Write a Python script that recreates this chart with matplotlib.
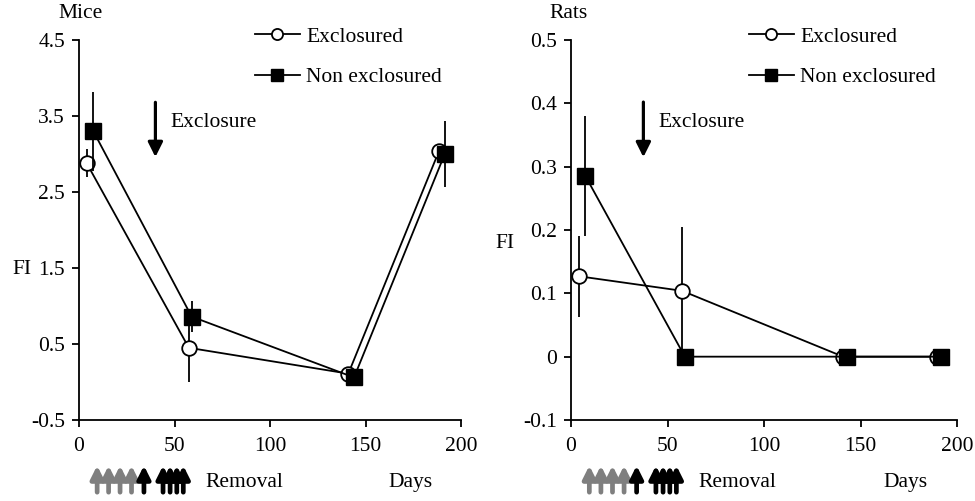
import matplotlib
matplotlib.use("Agg")
import matplotlib.pyplot as plt
from matplotlib.lines import Line2D

plt.rcParams['font.family'] = ['Liberation Serif', 'DejaVu Serif']
FS = 15.5
plt.rcParams['font.size'] = FS

# ---- data ----
mice_excl_x = [4, 57.5, 141, 188.5]
mice_excl_y = [2.88, 0.45, 0.11, 3.04]
mice_excl_err = [0.18, 0.45, 0.03, 0.03]
mice_non_x = [7.5, 59, 144, 191.5]
mice_non_y = [3.30, 0.86, 0.06, 3.00]
mice_non_err = [0.52, 0.20, 0.03, 0.43]

rats_excl_x = [4, 57.5, 141, 189.5]
rats_excl_y = [0.127, 0.104, 0.0, 0.0]
rats_excl_err = [0.064, 0.10, 0.0, 0.0]
rats_non_x = [7.5, 59, 143, 191.5]
rats_non_y = [0.285, 0.0, 0.0, 0.0]
rats_non_err = [0.095, 0.0, 0.0, 0.0]

mice_yticks = [-0.5, 0.5, 1.5, 2.5, 3.5, 4.5]
mice_yticklabels = ['-0.5', '0.5', '1.5', '2.5', '3.5', '4.5']
rats_yticks = [-0.1, 0, 0.1, 0.2, 0.3, 0.4, 0.5]
rats_yticklabels = ['-0.1', '0', '0.1', '0.2', '0.3', '0.4', '0.5']
xticks = [0, 50, 100, 150, 200]

removal_gray_days = [9.5, 15.5, 21.5, 27.5]
removal_black_days = [34, 44, 47.7, 51.2, 54.6]

fig = plt.figure(figsize=(9.75, 5.01), dpi=100)
ax1 = fig.add_axes([79/975, 81/501, 382/975, 380/501])
ax2 = fig.add_axes([571/975, 81/501, 386/975, 380/501])


def panel(ax, title, ex_x, ex_y, ex_e, nx_x, nx_y, nx_e, ylim, yticks, ylabels,
          excl_arrow_x, excl_arrow_y, fi_pos):
    ax.errorbar(ex_x, ex_y, yerr=ex_e, color='black', lw=1.3, elinewidth=1.3,
                marker='o', ms=10.5, mfc='white', mec='black', mew=1.3,
                capsize=0, zorder=3)
    ax.errorbar(nx_x, nx_y, yerr=nx_e, color='black', lw=1.3, elinewidth=1.3,
                marker='s', ms=11, mfc='black', mec='black',
                capsize=0, zorder=4)
    ax.set_xlim(0, 200)
    ax.set_ylim(*ylim)
    ax.set_xticks(xticks)
    ax.set_xticklabels([str(v) for v in xticks])
    ax.set_yticks(yticks)
    ax.set_yticklabels(ylabels)
    for s in ['top', 'right']:
        ax.spines[s].set_visible(False)
    for s in ['left', 'bottom']:
        ax.spines[s].set_linewidth(1.3)
    ax.tick_params(direction='out', length=5, width=1.3, labelsize=FS)
    ax.tick_params(axis='x', pad=7)
    ax.tick_params(axis='y', pad=5)

    ax.text(-0.055, 1.07, title, transform=ax.transAxes, fontsize=FS,
            ha='left', va='center')
    ax.text(fi_pos[0], fi_pos[1], 'FI', transform=ax.transAxes, fontsize=FS,
            ha='center', va='center')

    handles = [
        Line2D([], [], color='black', lw=1.3, marker='o', ms=8, mfc='white',
               mec='black', mew=1.3),
        Line2D([], [], color='black', lw=1.3, marker='s', ms=8.5, mfc='black',
               mec='black'),
    ]
    ax.legend(handles, ['Exclosured', 'Non exclosured'], loc='upper left',
              bbox_to_anchor=(0.46, 1.035), frameon=False,
              handlelength=2.1, handletextpad=0.3, labelspacing=0.95,
              borderpad=0, borderaxespad=0, fontsize=FS)

    # Exclosure arrow
    ax.annotate('', xy=(excl_arrow_x, excl_arrow_y[1]),
                xytext=(excl_arrow_x, excl_arrow_y[0]),
                arrowprops=dict(arrowstyle='-|>', color='black', lw=2.3,
                                mutation_scale=22, shrinkA=0, shrinkB=0))
    ax.text(excl_arrow_x + 8, (excl_arrow_y[0] + excl_arrow_y[1]) / 2 + 0.02 * (ylim[1] - ylim[0]),
            'Exclosure', fontsize=FS, ha='left', va='center')

    # Removal arrows
    trans = ax.get_xaxis_transform()
    for d in removal_gray_days:
        ax.annotate('', xy=(d, -0.12), xycoords=trans, xytext=(d, -0.19),
                    textcoords=trans, annotation_clip=False,
                    arrowprops=dict(arrowstyle='-|>', color='#7f7f7f', lw=3.4,
                                    mutation_scale=19, shrinkA=0, shrinkB=0))
    for d in removal_black_days:
        ax.annotate('', xy=(d, -0.12), xycoords=trans, xytext=(d, -0.19),
                    textcoords=trans, annotation_clip=False,
                    arrowprops=dict(arrowstyle='-|>', color='black', lw=3.4,
                                    mutation_scale=19, shrinkA=0, shrinkB=0))
    ax.text(66, -0.165, 'Removal', transform=trans, fontsize=FS,
            ha='left', va='center')
    ax.text(162, -0.165, 'Days', transform=trans, fontsize=FS,
            ha='left', va='center')


panel(ax1, 'Mice', mice_excl_x, mice_excl_y, mice_excl_err,
      mice_non_x, mice_non_y, mice_non_err, (-0.5, 4.5),
      mice_yticks, mice_yticklabels, 40, (3.68, 2.96), (-0.15, 0.395))
panel(ax2, 'Rats', rats_excl_x, rats_excl_y, rats_excl_err,
      rats_non_x, rats_non_y, rats_non_err, (-0.1, 0.5),
      rats_yticks, rats_yticklabels, 37.5, (0.402, 0.315), (-0.17, 0.465))

fig.savefig('out.png', dpi=100)
